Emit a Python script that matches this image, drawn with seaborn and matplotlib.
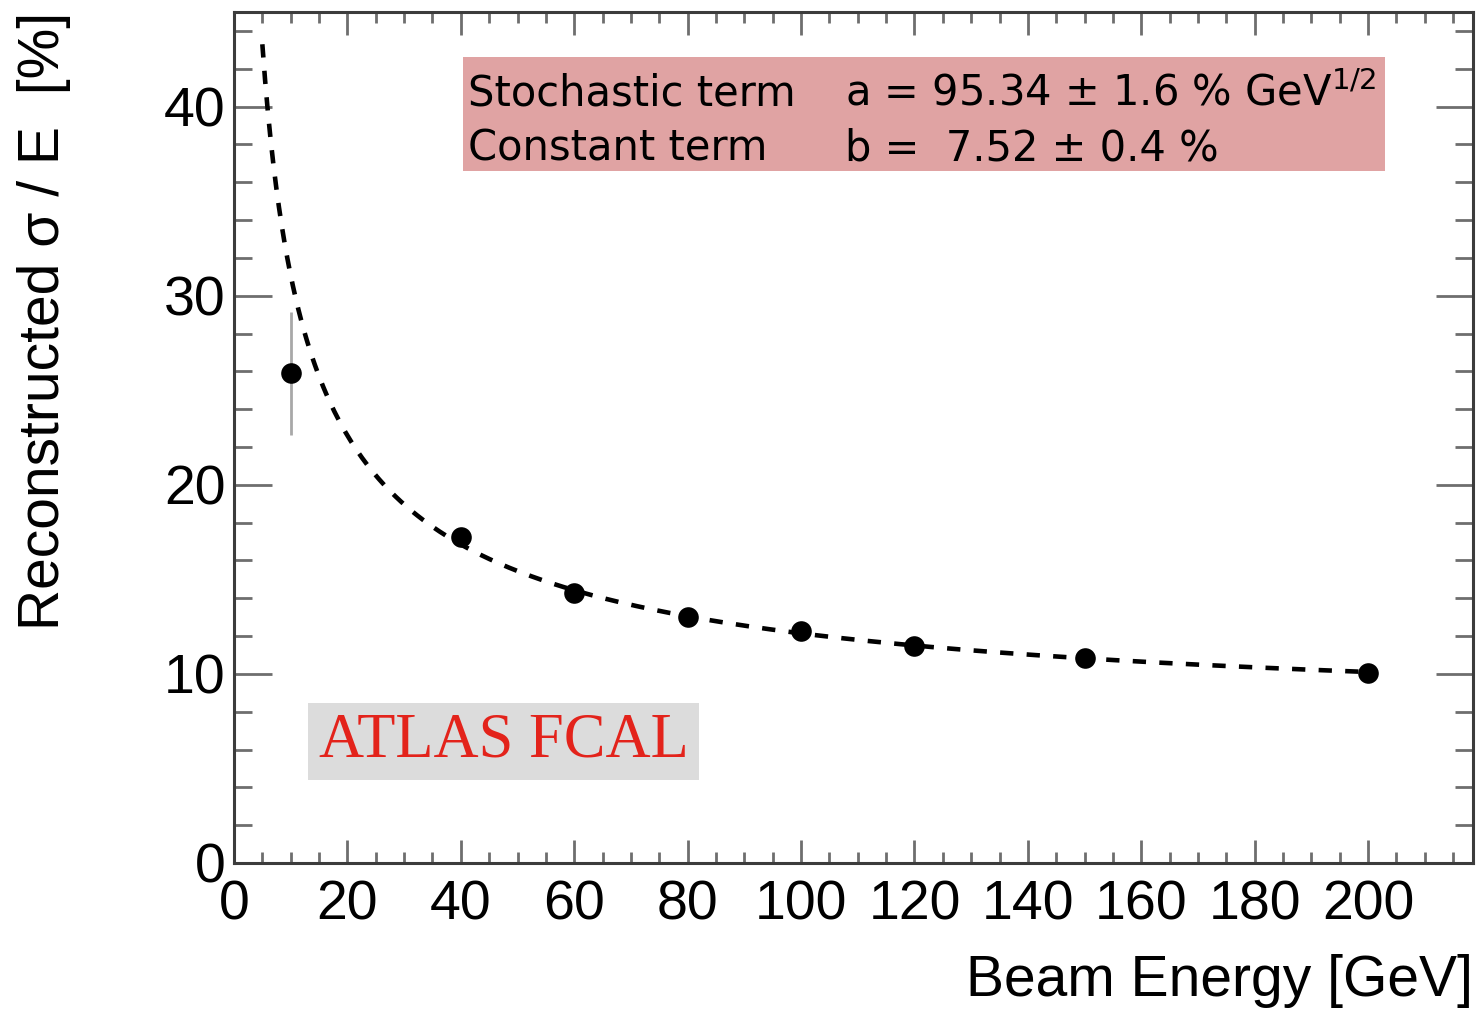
import numpy as np
import pandas as pd
import matplotlib
matplotlib.use("Agg")
import matplotlib.pyplot as plt
from matplotlib.patches import Rectangle
from matplotlib.ticker import MultipleLocator
import seaborn as sns

# Measured energy resolution of the forward calorimeter
beam_energy = [10, 40, 60, 80, 100, 120, 150, 200]
resolution = [25.9, 17.26, 14.26, 13.02, 12.28, 11.48, 10.82, 10.03]
resolution_err = [3.25, 0.3, 0.25, 0.2, 0.2, 0.15, 0.15, 0.15]

# Fit parameters: sigma/E = sqrt(a^2/E + b^2)
stoch_a = 95.34
const_b = 7.52
fit_range = (5, 200)

sns.set_theme(style="white")
plt.rcParams["font.family"] = ["Liberation Sans", "DejaVu Sans"]
plt.rcParams["text.color"] = "black"
plt.rcParams["axes.labelcolor"] = "black"
plt.rcParams["xtick.labelcolor"] = "black"
plt.rcParams["ytick.labelcolor"] = "black"

fig = plt.figure(figsize=(14.8, 10.11), dpi=100)
ax = fig.add_axes([0.1581, 0.1464, 0.8372, 0.8417])

e_fit = np.linspace(fit_range[0], fit_range[1], 400)
fit_df = pd.DataFrame({"E": e_fit,
                       "res": np.sqrt(stoch_a ** 2 / e_fit + const_b ** 2)})
sns.lineplot(data=fit_df, x="E", y="res", ax=ax, color="black",
             linewidth=3.3, dashes=False, zorder=2)
ax.lines[-1].set_dashes([2.9, 2.9])

ax.errorbar(beam_energy, resolution, yerr=resolution_err, fmt="none",
            ecolor="#a8a8a8", elinewidth=2, capsize=0, zorder=3)
pts = pd.DataFrame({"E": beam_energy, "res": resolution})
sns.scatterplot(data=pts, x="E", y="res", ax=ax, color="black", s=220,
                edgecolor="black", linewidth=0, zorder=4)

ax.set_xlim(0, 218.5)
ax.set_ylim(0, 45)
ax.xaxis.set_major_locator(MultipleLocator(20))
ax.xaxis.set_minor_locator(MultipleLocator(5))
ax.yaxis.set_major_locator(MultipleLocator(10))
ax.yaxis.set_minor_locator(MultipleLocator(2))

ax.tick_params(axis="x", which="major", direction="in", length=16.5,
               width=2, color="#6e6e6e", top=True, bottom=True,
               labelsize=40, pad=12)
ax.tick_params(axis="x", which="minor", direction="in", length=8,
               width=2, color="#6e6e6e", top=True, bottom=True)
ax.tick_params(axis="y", which="major", direction="in", length=27,
               width=2, color="#6e6e6e", left=True, right=True,
               labelsize=40, pad=6)
ax.tick_params(axis="y", which="minor", direction="in", length=13,
               width=2, color="#6e6e6e", left=True, right=True)
for sp in ax.spines.values():
    sp.set_color("#3c3c3c")
    sp.set_linewidth(2.2)

ax.set_xlabel("Beam Energy [GeV]", fontsize=41, ha="right", x=1.0,
              labelpad=16)
ax.set_ylabel("Reconstructed σ / E  [%]", fontsize=41, ha="right", y=1.0,
              labelpad=67)

# Fit-result box
ax.add_patch(Rectangle((0.1848, 0.8132), 0.7441, 0.1340,
                       transform=ax.transAxes, facecolor="#e0a3a3",
                       edgecolor="none", zorder=1))
box_font = dict(fontsize=30, color="black", family=["DejaVu Sans"],
                transform=ax.transAxes, va="baseline", zorder=5)
ax.text(0.1889, 0.8907, "Stochastic term", **box_font)
ax.text(0.493, 0.8907, "a = 95.34 ± 1.6 % GeV$^{1/2}$", **box_font)
ax.text(0.1889, 0.8260, "Constant term", **box_font)
ax.text(0.493, 0.8260, "b =  7.52 ± 0.4 %", **box_font)

# Label box
ax.add_patch(Rectangle((0.0600, 0.0975), 0.3156, 0.0905,
                       transform=ax.transAxes, facecolor="#dcdcdc",
                       edgecolor="none", zorder=1))
ax.text(0.2178, 0.1425, "ATLAS FCAL", transform=ax.transAxes,
        ha="center", va="center", fontsize=45, color="#e3231b",
        family=["Liberation Serif"], zorder=5)

fig.savefig("out.png", dpi=100, facecolor="white")
